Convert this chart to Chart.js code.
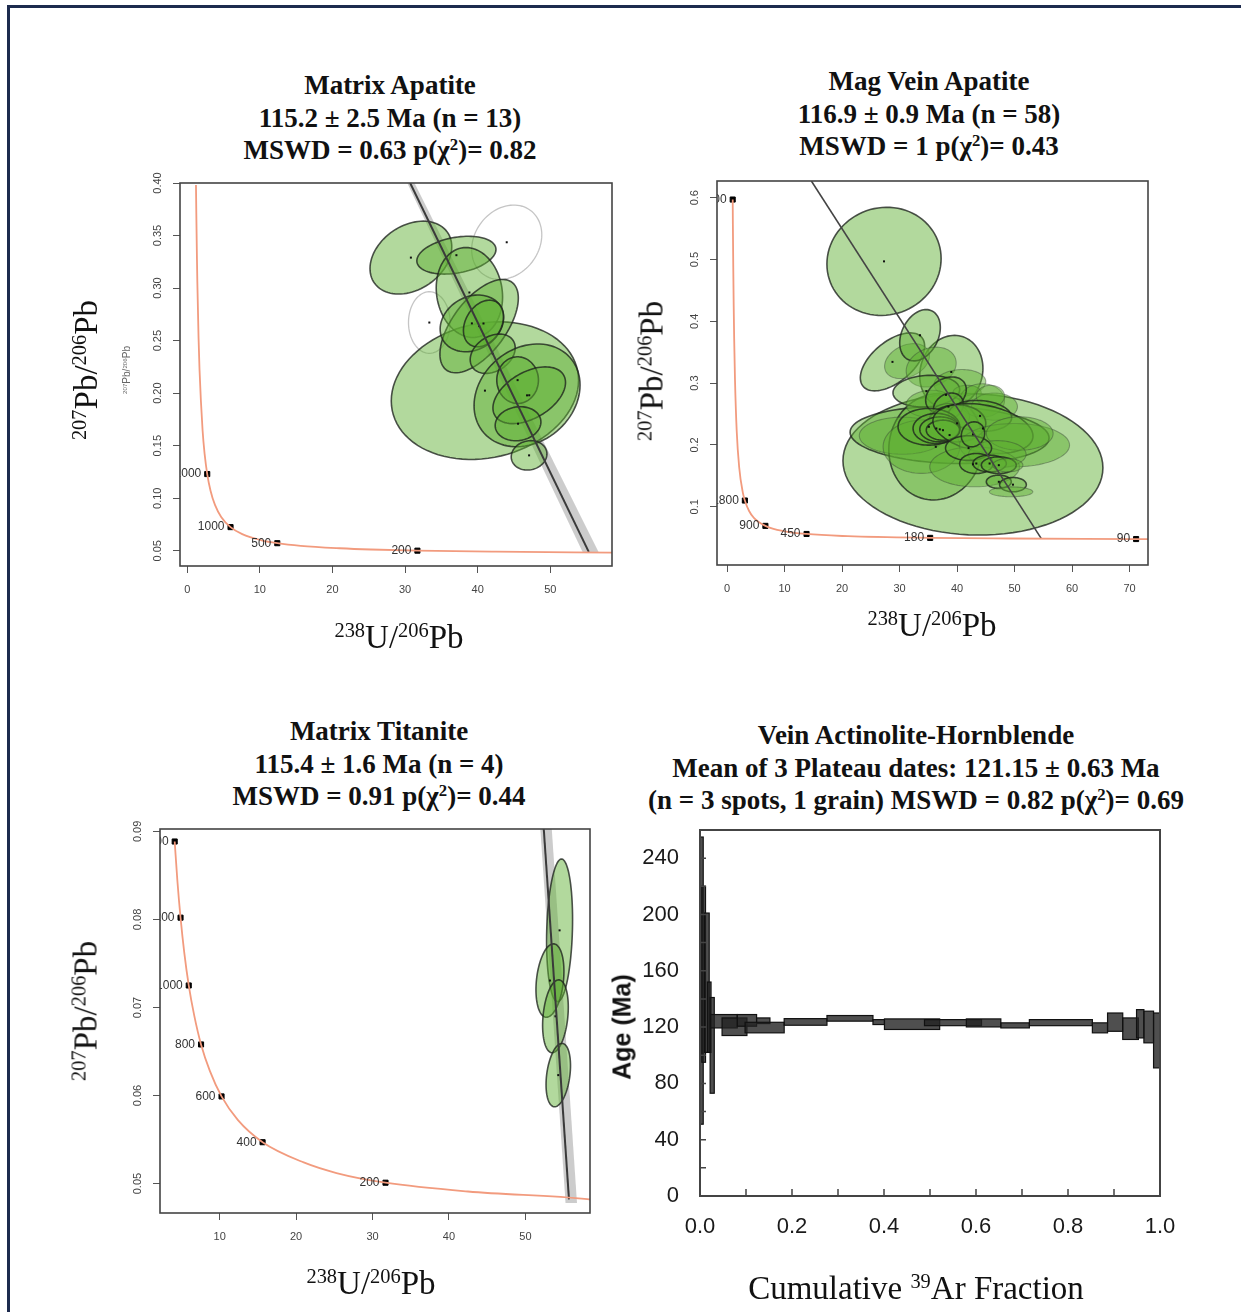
<!DOCTYPE html>
<html>
<head>
<meta charset="utf-8">
<script src="https://cdn.jsdelivr.net/npm/chart.js@4.4.0/dist/chart.umd.min.js"></script>
<style>
  html, body { margin: 0; padding: 0; background: #fff; }
  body { width: 1241px; height: 1312px; position: relative; overflow: hidden; }
  .frame { position: absolute; left: 7px; top: 5px; width: 1300px; height: 1400px;
           border-left: 3px solid #1d2b4e; border-top: 3px solid #1d2b4e; }
  .panel { position: absolute; }
  .title { position: absolute; transform: translateX(-50%); white-space: nowrap; text-align: center;
           font-family: "Liberation Serif", "Times New Roman", serif; font-weight: bold;
           font-size: 27px; line-height: 32.5px; color: #111; }
  .axt { position: absolute; transform: translate(-50%, -50%); white-space: nowrap; line-height: 1;
         font-family: "Liberation Serif", "Times New Roman", serif; font-size: 33px; color: #111; }
  .axt.rot { transform: translate(-50%, -50%) rotate(-90deg); }
  .small { font-family: "Liberation Sans", Arial, sans-serif; font-size: 10px; color: #666; }
  .agelab { font-family: "Liberation Sans", Arial, sans-serif; font-weight: bold; font-size: 25px; color: #111; }
  sup { font-size: 0.62em; position: relative; top: -0.55em; vertical-align: baseline; line-height: 0; }
</style>
</head>
<body>
<div class="frame"></div>

<div class="title" style="left:390px;top:69px">Matrix Apatite<br>115.2 ± 2.5 Ma (n = 13)<br>MSWD = 0.63 p(χ<sup>2</sup>)= 0.82</div>
<div class="title" style="left:929px;top:65px">Mag Vein Apatite<br>116.9 ± 0.9 Ma (n = 58)<br>MSWD = 1 p(χ<sup>2</sup>)= 0.43</div>
<div class="title" style="left:379px;top:715px">Matrix Titanite<br>115.4 ± 1.6 Ma (n = 4)<br>MSWD = 0.91 p(χ<sup>2</sup>)= 0.44</div>
<div class="title" style="left:916px;top:719px">Vein Actinolite-Hornblende<br>Mean of 3 Plateau dates: 121.15 ± 0.63 Ma<br>(n = 3 spots, 1 grain) MSWD = 0.82 p(χ<sup>2</sup>)= 0.69</div>

<div class="panel" style="left:100px;top:160px"><canvas id="matrixApatite" width="530" height="460"></canvas></div>
<div class="panel" style="left:640px;top:160px"><canvas id="veinApatite" width="530" height="460"></canvas></div>
<div class="panel" style="left:100px;top:810px"><canvas id="matrixTitanite" width="510" height="470"></canvas></div>
<div class="panel" style="left:600px;top:810px"><canvas id="arSpectrum" width="600" height="460"></canvas></div>

<div class="axt rot" style="left:86px;top:370px"><sup>207</sup>Pb/<sup>206</sup>Pb</div>
<div class="axt rot small" style="left:127px;top:370px"><sup>207</sup>Pb/<sup>206</sup>Pb</div>
<div class="axt" style="left:399px;top:637px"><sup>238</sup>U/<sup>206</sup>Pb</div>
<div class="axt rot" style="left:652px;top:371px"><sup>207</sup>Pb/<sup>206</sup>Pb</div>
<div class="axt" style="left:932px;top:625px"><sup>238</sup>U/<sup>206</sup>Pb</div>
<div class="axt rot" style="left:86px;top:1011px"><sup>207</sup>Pb/<sup>206</sup>Pb</div>
<div class="axt" style="left:371px;top:1283px"><sup>238</sup>U/<sup>206</sup>Pb</div>
<div class="axt rot agelab" style="left:622px;top:1027px">Age (Ma)</div>
<div class="axt" style="left:916px;top:1288px">Cumulative <sup>39</sup>Ar Fraction</div>

<script>
const SANS = '"Liberation Sans", Arial, Helvetica, sans-serif';
const SALMON = '#f29b7e';
const GREEN = 'rgba(95, 175, 50, 0.48)';

// ---- Matrix apatite ----
const apatiteXTicks = [0, 10, 20, 30, 40, 50];
const apatiteYTicks = [0.05, 0.10, 0.15, 0.20, 0.25, 0.30, 0.35, 0.40];
const apatiteYLabels = ['0.05', '0.10', '0.15', '0.20', '0.25', '0.30', '0.35', '0.40'];
const apatiteConcordia = [
  [1.20, 0.398], [1.245, 0.372], [1.337, 0.327], [1.387, 0.306], [1.556, 0.2525], [1.687, 0.2227],
  [2.112, 0.1644], [2.394, 0.1419], [2.75, 0.1230], [3.206, 0.1071], [3.817, 0.0936], [4.672, 0.0822],
  [5.96, 0.0725], [7.57, 0.0658], [10.25, 0.0599], [12.4, 0.0572], [15.62, 0.0547], [21.0, 0.0524],
  [25.29, 0.0512], [31.7, 0.0501], [42.5, 0.0491], [58.5, 0.0482]
];
const apatiteAgeLabels = ['2000', '1000', '500', '200'];
const apatiteAgePoints = [[2.75, 0.1230], [5.96, 0.0725], [12.4, 0.0572], [31.7, 0.0501]];
const apatiteDiscordia = [[30.7, 0.40], [55.3, 0.0490]];
const apatiteBand = [[30.3, 0.40], [31.3, 0.40], [56.7, 0.0482], [54.5, 0.0482]];
// [x, y, sx, sy, rho]
const apatiteEllipses = [
  [41.0, 0.2024, 12.9, 0.0655, 0.15],
  [30.8, 0.329, 5.63, 0.0347, 0.3],
  [37.07, 0.3313, 5.45, 0.018, 0.3],
  [38.86, 0.2958, 4.57, 0.0428, -0.1],
  [40.2, 0.2638, 5.4, 0.0444, 0.6],
  [39.2, 0.2664, 4.37, 0.027, 0.2],
  [40.8, 0.2663, 2.76, 0.0222, 0.3],
  [42.07, 0.2375, 3.1, 0.0187, 0.3],
  [46.8, 0.1979, 7.3, 0.0489, 0.2],
  [45.5, 0.2124, 2.87, 0.0222, 0.0],
  [47.1, 0.198, 5.0, 0.027, 0.45],
  [45.56, 0.1709, 3.15, 0.0162, 0.1],
  [47.08, 0.1408, 2.46, 0.014, 0.1]
];
const apatiteRejected = [
  [44.0, 0.3436, 4.83, 0.0354, 0.2],
  [33.34, 0.2672, 2.87, 0.0293, 0.0]
];

// ---- Mag vein apatite ----
const veinXTicks = [0, 10, 20, 30, 40, 50, 60, 70];
const veinYTicks = [0.1, 0.2, 0.3, 0.4, 0.5, 0.6];
const veinYLabels = ['0.1', '0.2', '0.3', '0.4', '0.5', '0.6'];
const veinConcordia = [
  [0.99, 0.597], [1.02, 0.557], [1.089, 0.4866], [1.163, 0.425], [1.245, 0.372], [1.387, 0.306],
  [1.687, 0.2227], [2.112, 0.1644], [2.75, 0.1230], [3.105, 0.1101], [3.817, 0.0936], [4.672, 0.0822],
  [6.674, 0.0691], [8.72, 0.0628], [13.83, 0.0560], [21.0, 0.0524], [35.32, 0.0497], [49.09, 0.0487],
  [71.13, 0.0478], [73.2, 0.0477]
];
const veinAgeLabels = ['4500', '1800', '900', '450', '180', '90'];
const veinAgePoints = [[0.99, 0.597], [3.105, 0.1101], [6.674, 0.0691], [13.83, 0.0560], [35.32, 0.0497], [71.13, 0.0478]];
const veinDiscordia = [[14.67, 0.627], [54.65, 0.0485]];
// [x, y, sx, sy, rho, outlined]
const veinEllipses = [
  [42.76, 0.1687, 22.6, 0.1145, -0.05, 1],
  [38.7, 0.216, 17.3, 0.046, -0.1, 1],
  [36.3, 0.197, 8.17, 0.086, 0.05, 1],
  [27.3, 0.497, 9.93, 0.0875, 0.05, 1],
  [39.0, 0.318, 5.5, 0.0593, 0.1, 1],
  [28.77, 0.3344, 5.59, 0.0469, 0.55, 1],
  [31.3, 0.3357, 3.9, 0.0283, 0.3, 0],
  [33.56, 0.3775, 3.53, 0.0415, 0.3, 1],
  [35.5, 0.326, 4.35, 0.0323, 0.2, 0],
  [40.5, 0.300, 4.5, 0.022, 0.1, 0],
  [34.66, 0.287, 5.8, 0.0256, 0.1, 1],
  [35.2, 0.267, 4.05, 0.0215, 0.1, 0],
  [41.75, 0.2845, 2.46, 0.012, 0.0, 0],
  [44.36, 0.272, 3.9, 0.027, 0.0, 0],
  [46.5, 0.262, 4.0, 0.022, 0.0, 0],
  [45.8, 0.279, 2.46, 0.0175, 0.0, 0],
  [38.07, 0.281, 3.53, 0.029, 0.3, 1],
  [38.5, 0.262, 2.6, 0.022, 0.2, 1],
  [38.7, 0.2455, 3.48, 0.0215, 0.0, 0],
  [44.0, 0.247, 5.5, 0.025, -0.1, 1],
  [40.0, 0.235, 5.0, 0.030, 0.0, 1],
  [30.5, 0.215, 7.5, 0.030, 0.0, 0],
  [33.8, 0.197, 6.66, 0.043, 0.0, 0],
  [35.1, 0.2294, 5.36, 0.0297, 0.0, 1],
  [36.4, 0.2267, 4.05, 0.0243, 0.0, 1],
  [37.0, 0.2252, 3.48, 0.0202, 0.0, 1],
  [37.55, 0.2239, 2.9, 0.0162, 0.0, 1],
  [44.5, 0.2266, 8.7, 0.0404, -0.3, 1],
  [50.0, 0.1997, 9.56, 0.035, 0.0, 0],
  [50.9, 0.2185, 5.8, 0.027, 0.0, 0],
  [43.05, 0.1646, 7.8, 0.0323, 0.0, 0],
  [47.0, 0.185, 5.0, 0.022, 0.0, 0],
  [42.0, 0.195, 4.0, 0.020, 0.0, 1],
  [42.77, 0.2172, 2.03, 0.0202, 0.1, 1],
  [43.35, 0.170, 2.9, 0.0162, 0.0, 1],
  [45.66, 0.170, 2.9, 0.0135, 0.0, 1],
  [47.26, 0.1673, 3.04, 0.0135, 0.0, 1],
  [48.85, 0.1673, 2.6, 0.0108, 0.0, 0],
  [47.26, 0.1404, 2.17, 0.0108, 0.0, 1],
  [49.72, 0.1358, 2.32, 0.0116, 0.0, 1],
  [49.4, 0.1242, 3.77, 0.008, 0.0, 0]
];

// ---- Matrix titanite ----
const titaniteXTicks = [10, 20, 30, 40, 50];
const titaniteYTicks = [0.05, 0.06, 0.07, 0.08, 0.09];
const titaniteYLabels = ['0.05', '0.06', '0.07', '0.08', '0.09'];
const titaniteConcordia = [
  [4.122, 0.08885], [4.476, 0.08436], [4.887, 0.0802], [5.374, 0.07622], [5.96, 0.0725], [6.674, 0.0691],
  [7.568, 0.0658], [8.72, 0.0628], [10.25, 0.0599], [12.4, 0.0572], [15.62, 0.0547], [21.0, 0.0524],
  [25.29, 0.0512], [31.7, 0.0501], [42.48, 0.0491], [58.1, 0.04824], [58.45, 0.0482]
];
const titaniteAgeLabels = ['1400', '1200', '1000', '800', '600', '400', '200'];
const titaniteAgePoints = [[4.122, 0.08885], [4.887, 0.0802], [5.96, 0.0725], [7.568, 0.0658], [10.25, 0.0599], [15.62, 0.0547], [31.7, 0.0501]];
const titaniteDiscordia = [[52.4, 0.0903], [55.7, 0.0482]];
const titaniteBand = [[51.95, 0.0903], [53.45, 0.0903], [56.75, 0.0478], [55.25, 0.0478]];
const titaniteEllipses = [
  [54.47, 0.07876, 1.7, 0.0081, 0.15],
  [53.21, 0.07306, 1.83, 0.00417, 0.25],
  [53.93, 0.069, 1.68, 0.00414, 0.25],
  [54.3, 0.06232, 1.6, 0.0036, 0.3]
];

// ---- Ar-Ar step heating spectrum ----
const fracTicks = [0, 0.2, 0.4, 0.6, 0.8, 1.0];
const fracMinorTicks = [0.1, 0.2, 0.3, 0.4, 0.5, 0.6, 0.7, 0.8, 0.9];
const ageTicks = [0, 40, 80, 120, 160, 200, 240];
const ageMinorTicks = [20, 40, 60, 80, 100, 120, 140, 160, 180, 200, 220, 240];
const stepStart   = [0.000, 0.004, 0.010, 0.016, 0.022, 0.023, 0.048, 0.081, 0.123, 0.098, 0.183, 0.276, 0.376, 0.401, 0.488, 0.579, 0.654, 0.716, 0.853, 0.886, 0.919, 0.949, 0.965, 0.986];
const stepEnd     = [0.007, 0.012, 0.020, 0.024, 0.031, 0.081, 0.102, 0.123, 0.152, 0.183, 0.276, 0.376, 0.401, 0.521, 0.612, 0.654, 0.716, 0.853, 0.886, 0.919, 0.953, 0.965, 0.986, 1.000];
const stepAgeLow  = [51, 95, 102, 102, 73, 119.4, 114, 120.6, 122.5, 115.9, 121.3, 124.2, 121.8, 118.3, 121, 120.1, 119.4, 121, 115.9, 117, 111.2, 112.3, 108.8, 91];
const stepAgeHigh = [255, 220, 201, 152, 141, 128.9, 126.5, 128.9, 126.5, 123.4, 126, 128.2, 125.3, 125.8, 125.3, 125.8, 123, 125.3, 123, 130, 126.5, 132.4, 131.3, 130];

function ellipsePath(ctx, xs, ys, e) {
  const [cx, cy, sx, sy, r] = e;
  const q = Math.sqrt(1 - r * r);
  ctx.beginPath();
  for (let i = 0; i <= 90; i++) {
    const t = i / 90 * Math.PI * 2;
    const px = xs.getPixelForValue(cx + sx * Math.cos(t));
    const py = ys.getPixelForValue(cy + sy * (r * Math.cos(t) + q * Math.sin(t)));
    if (i) ctx.lineTo(px, py); else ctx.moveTo(px, py);
  }
  ctx.closePath();
}

// keep Chart.js from padding the plot area for edge tick labels
function noEdgePadding(s) {
  s.paddingTop = 0; s.paddingBottom = 0; s.paddingLeft = 0; s.paddingRight = 0;
}

function isoPlugin(o) {
  return {
    id: 'iso_' + o.name,
    beforeDatasetsDraw(chart) {
      const { ctx, chartArea: a, scales: { x, y } } = chart;
      ctx.save();
      ctx.beginPath(); ctx.rect(a.left, a.top, a.width, a.height); ctx.clip();
      if (o.band) {
        ctx.beginPath();
        o.band.forEach(([bx, by], i) => {
          const px = x.getPixelForValue(bx), py = y.getPixelForValue(by);
          if (i) ctx.lineTo(px, py); else ctx.moveTo(px, py);
        });
        ctx.closePath();
        ctx.fillStyle = 'rgba(0,0,0,0.2)';
        ctx.fill();
      }
      (o.rejected || []).forEach(e => {
        ellipsePath(ctx, x, y, e);
        ctx.strokeStyle = 'rgba(150,150,150,0.55)'; ctx.lineWidth = 1.3; ctx.stroke();
      });
      o.ellipses.forEach(e => {
        ellipsePath(ctx, x, y, e);
        ctx.fillStyle = GREEN; ctx.fill();
        const faint = e.length > 5 && e[5] === 0;
        ctx.strokeStyle = faint ? 'rgba(50,60,50,0.4)' : 'rgba(30,35,30,0.78)';
        ctx.lineWidth = faint ? 1.1 : 1.6;
        ctx.stroke();
      });
      ctx.fillStyle = '#111';
      o.ellipses.concat(o.rejected || []).forEach(e => {
        if (e.length > 5 && e[5] === 0) return;
        ctx.fillRect(x.getPixelForValue(e[0]) - 1, y.getPixelForValue(e[1]) - 1, 2, 2);
      });
      ctx.restore();
    },
    afterDatasetsDraw(chart) {
      const { ctx, chartArea: a, scales: { x, y } } = chart;
      ctx.save();
      ctx.beginPath(); ctx.rect(a.left, a.top, a.width, a.height); ctx.clip();
      ctx.font = '12px ' + SANS;
      ctx.fillStyle = '#333';
      ctx.textAlign = 'right';
      ctx.textBaseline = 'middle';
      o.agePoints.forEach(([ax, ay], i) => {
        ctx.fillText(o.ageLabels[i], x.getPixelForValue(ax) - 6, y.getPixelForValue(ay));
      });
      ctx.restore();
    },
    afterDraw(chart) {
      const { ctx, chartArea: a, scales: { y } } = chart;
      ctx.save();
      ctx.strokeStyle = '#444';
      ctx.lineWidth = 1.6;
      ctx.strokeRect(a.left, a.top, a.width, a.height);
      ctx.font = '11px ' + SANS;
      ctx.fillStyle = '#444';
      ctx.textAlign = 'center';
      ctx.textBaseline = 'middle';
      o.yTicks.forEach((v, i) => {
        ctx.save();
        ctx.translate(a.left - o.yLabelGap, y.getPixelForValue(v));
        ctx.rotate(-Math.PI / 2);
        ctx.fillText(o.yLabels[i], 0, 0);
        ctx.restore();
      });
      ctx.restore();
    }
  };
}

function isoChart(id, o) {
  const pts = arr => arr.map(([x, y]) => ({ x, y }));
  return new Chart(document.getElementById(id), {
    type: 'scatter',
    data: {
      datasets: [
        { data: pts(o.concordia), showLine: true, borderColor: SALMON, borderWidth: 1.8,
          pointRadius: 0, cubicInterpolationMode: 'monotone' },
        { data: pts(o.discordia), showLine: true, borderColor: o.lineColor, borderWidth: o.lineWidth,
          pointRadius: 0 },
        { data: pts(o.agePoints), pointStyle: 'rect', pointRadius: 3.6, backgroundColor: '#000',
          borderColor: '#000', borderWidth: 1 }
      ]
    },
    options: {
      responsive: false,
      animation: false,
      events: [],
      layout: { padding: o.pad },
      plugins: { legend: { display: false }, tooltip: { enabled: false } },
      scales: {
        x: {
          type: 'linear', min: o.xMin, max: o.xMax,
          afterBuildTicks: s => { s.ticks = o.xTicks.map(v => ({ value: v })); },
          afterFit: s => { s.height = 40; noEdgePadding(s); },
          grid: { drawOnChartArea: false, tickLength: 7, color: '#555' },
          border: { display: false },
          ticks: { padding: 10, color: '#444', font: { family: SANS, size: 11 }, maxRotation: 0,
                   autoSkip: false, callback: v => String(v) }
        },
        y: {
          type: 'linear', min: o.yMin, max: o.yMax,
          afterBuildTicks: s => { s.ticks = o.yTicks.map(v => ({ value: v })); },
          afterFit: s => { s.width = 30; noEdgePadding(s); },
          grid: { drawOnChartArea: false, tickLength: 7, color: '#555' },
          border: { display: false },
          ticks: { display: false }
        }
      }
    },
    plugins: [isoPlugin(o)]
  });
}

isoChart('matrixApatite', {
  name: 'apatite', xMin: -1.0, xMax: 58.5, yMin: 0.0355, yMax: 0.40,
  pad: { left: 50, top: 23, right: 18, bottom: 14 },
  xTicks: apatiteXTicks, yTicks: apatiteYTicks, yLabels: apatiteYLabels, yLabelGap: 22,
  concordia: apatiteConcordia, agePoints: apatiteAgePoints, ageLabels: apatiteAgeLabels,
  discordia: apatiteDiscordia, band: apatiteBand, lineColor: '#3a3a3a', lineWidth: 2,
  ellipses: apatiteEllipses, rejected: apatiteRejected
});

isoChart('veinApatite', {
  name: 'vein', xMin: -1.74, xMax: 73.2, yMin: 0.0058, yMax: 0.627,
  pad: { left: 47, top: 21, right: 22, bottom: 15 },
  xTicks: veinXTicks, yTicks: veinYTicks, yLabels: veinYLabels, yLabelGap: 22,
  concordia: veinConcordia, agePoints: veinAgePoints, ageLabels: veinAgeLabels,
  discordia: veinDiscordia, lineColor: '#444', lineWidth: 1.6,
  ellipses: veinEllipses
});

isoChart('matrixTitanite', {
  name: 'titanite', xMin: 2.2, xMax: 58.45, yMin: 0.04666, yMax: 0.09027,
  pad: { left: 30, top: 19, right: 20, bottom: 27 },
  xTicks: titaniteXTicks, yTicks: titaniteYTicks, yLabels: titaniteYLabels, yLabelGap: 22,
  concordia: titaniteConcordia, agePoints: titaniteAgePoints, ageLabels: titaniteAgeLabels,
  discordia: titaniteDiscordia, band: titaniteBand, lineColor: '#3a3a3a', lineWidth: 2,
  ellipses: titaniteEllipses
});

// step-heating boxes, minor ticks and frame for the Ar-Ar panel
const spectrumPlugin = {
  id: 'spectrum',
  afterDatasetsDraw(chart) {
    const { ctx, chartArea: a, scales: { x, y } } = chart;
    ctx.save();
    ctx.beginPath(); ctx.rect(a.left, a.top, a.width, a.height); ctx.clip();
    stepStart.forEach((s, i) => {
      const x0 = x.getPixelForValue(s), x1 = x.getPixelForValue(stepEnd[i]);
      const y0 = y.getPixelForValue(stepAgeHigh[i]), y1 = y.getPixelForValue(stepAgeLow[i]);
      ctx.fillStyle = 'rgba(35,35,35,0.8)';
      ctx.fillRect(x0, y0, x1 - x0, y1 - y0);
      ctx.strokeStyle = '#111';
      ctx.lineWidth = 1.2;
      ctx.strokeRect(x0, y0, x1 - x0, y1 - y0);
    });
    ctx.restore();
  },
  afterDraw(chart) {
    const { ctx, chartArea: a, scales: { x, y } } = chart;
    ctx.save();
    ctx.strokeStyle = '#444';
    ctx.lineWidth = 1.5;
    ctx.beginPath();
    fracMinorTicks.forEach(v => {
      const px = x.getPixelForValue(v);
      ctx.moveTo(px, a.bottom); ctx.lineTo(px, a.bottom - 7);
    });
    ageMinorTicks.forEach(v => {
      const py = y.getPixelForValue(v);
      ctx.moveTo(a.left, py); ctx.lineTo(a.left + 6, py);
    });
    ctx.stroke();
    ctx.lineWidth = 2;
    ctx.strokeRect(a.left, a.top, a.width, a.height);
    ctx.restore();
  }
};

new Chart(document.getElementById('arSpectrum'), {
  type: 'scatter',
  data: { datasets: [] },
  options: {
    responsive: false,
    animation: false,
    events: [],
    layout: { padding: { left: 40, top: 20, right: 40, bottom: 24 } },
    plugins: { legend: { display: false }, tooltip: { enabled: false } },
    scales: {
      x: {
        type: 'linear', min: 0, max: 1,
        afterBuildTicks: s => { s.ticks = fracTicks.map(v => ({ value: v })); },
        afterFit: s => { s.height = 50; noEdgePadding(s); },
        grid: { display: false },
        border: { display: false },
        ticks: { padding: 10, color: '#1a1a1a', font: { family: SANS, size: 22 }, maxRotation: 0,
                 autoSkip: false, callback: v => v.toFixed(1) }
      },
      y: {
        type: 'linear', min: 0, max: 260,
        afterBuildTicks: s => { s.ticks = ageTicks.map(v => ({ value: v })); },
        afterFit: s => { s.width = 60; noEdgePadding(s); },
        grid: { display: false },
        border: { display: false },
        ticks: { padding: 13, color: '#1a1a1a', font: { family: SANS, size: 22 }, autoSkip: false }
      }
    }
  },
  plugins: [spectrumPlugin]
});
</script>
</body>
</html>
